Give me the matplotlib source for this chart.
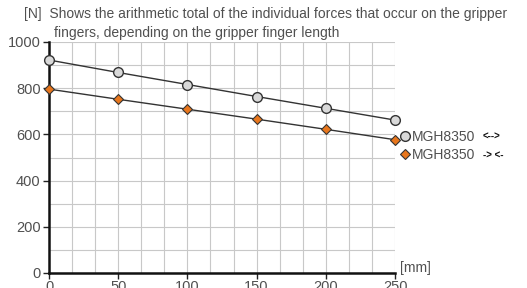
import matplotlib
matplotlib.use("Agg")
import matplotlib.pyplot as plt
from matplotlib.lines import Line2D

plt.rcParams['font.family'] = ['Liberation Sans', 'DejaVu Sans']

# finger length [mm]
lengths = [0, 50, 100, 150, 200, 250]
# total gripping force [N]
force_open = [922, 868, 816, 764, 713, 662]
force_close = [796, 752, 709, 666, 622, 577]
series_label = "MGH8350"

text_col = "#505050"
fig = plt.figure(figsize=(5.27, 2.88), dpi=100)
ax = fig.add_axes([49 / 527, 1 - 273 / 288, (395 - 49) / 527, (273 - 42) / 288])

ax.plot(lengths, force_open, color="#333333", lw=1, marker="o", ms=7,
        mfc="#d9d9d9", mec="#333333", mew=1, zorder=3, clip_on=False)
ax.plot(lengths, force_close, color="#333333", lw=1, marker="D", ms=5.5,
        mfc="#e8761c", mec="#333333", mew=0.8, zorder=3, clip_on=False)

ax.set_xlim(0, 250)
ax.set_ylim(0, 1000)
ax.set_xticks(range(0, 251, 50))
ax.set_yticks(range(0, 1001, 200))
ax.set_xticks([i * 50 / 3 for i in range(16)], minor=True)
ax.set_yticks(range(0, 1001, 100), minor=True)
ax.grid(True, which="both", color="#c8c8c8", lw=0.8)
ax.tick_params(which="minor", length=0)
ax.tick_params(which="major", length=4, width=1, colors="#222222",
               labelcolor=text_col, labelsize=10.5)
ax.tick_params(axis="x", pad=1)
ax.tick_params(axis="y", pad=2)
for s in ["top", "right"]:
    ax.spines[s].set_visible(False)
for s in ["left", "bottom"]:
    ax.spines[s].set_linewidth(1.8)
    ax.spines[s].set_color("#111111")
ax.set_axisbelow(True)

fig.text(24 / 527, 1 - 14 / 288,
         "[N]  Shows the arithmetic total of the individual forces that occur on the gripper",
         fontsize=10, color=text_col, va="center")
fig.text(54 / 527, 1 - 33 / 288, "fingers, depending on the gripper finger length",
         fontsize=10, color=text_col, va="center")
fig.text(400 / 527, 1 - 268 / 288, "[mm]", fontsize=10, color=text_col, va="center")

# legend
handles = [
    Line2D([], [], ls="none", marker="o", ms=7, mfc="#d9d9d9", mec="#333333", mew=1),
    Line2D([], [], ls="none", marker="D", ms=5.5, mfc="#e8761c", mec="#333333", mew=0.8),
]
fig.legend(handles, [series_label, series_label], loc="upper left",
           bbox_to_anchor=(401 / 527, 1 - 130 / 288), frameon=False,
           handlelength=0.6, handletextpad=0.2, labelspacing=0.3,
           fontsize=10, labelcolor=text_col, borderaxespad=0, borderpad=0)
fig.text(483 / 527, 1 - 137 / 288, "<-->", fontsize=7, fontweight="bold",
         color="#111111", va="center")
fig.text(483 / 527, 1 - 155 / 288, "-> <-", fontsize=7, fontweight="bold",
         color="#111111", va="center")

fig.savefig("out.png", dpi=100)
